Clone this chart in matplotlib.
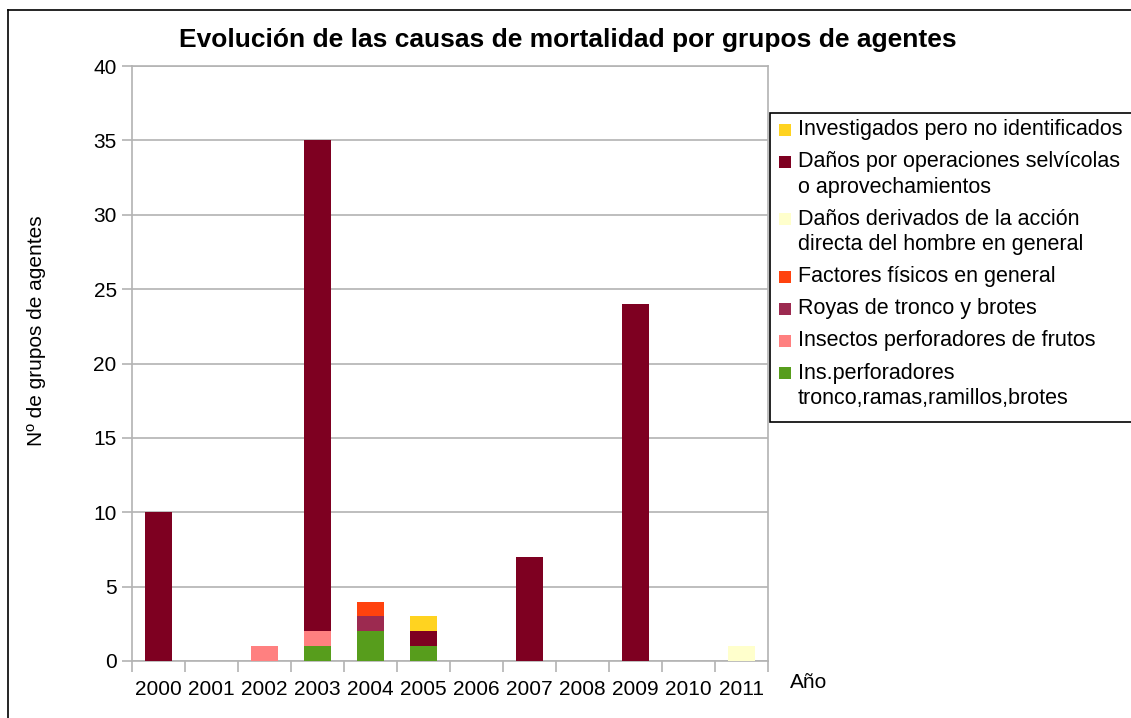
import numpy as np
import matplotlib.pyplot as plt
from matplotlib.lines import Line2D
from matplotlib.patches import Rectangle

plt.rcParams['font.family'] = ['Liberation Sans', 'DejaVu Sans']

years = ['2000', '2001', '2002', '2003', '2004', '2005',
         '2006', '2007', '2008', '2009', '2010', '2011']

# series, bottom of the stack first
ins_tronco   = [0, 0, 0, 1, 2, 1, 0, 0, 0, 0, 0, 0]
ins_frutos   = [0, 0, 1, 1, 0, 0, 0, 0, 0, 0, 0, 0]
royas        = [0, 0, 0, 0, 1, 0, 0, 0, 0, 0, 0, 0]
factores     = [0, 0, 0, 0, 1, 0, 0, 0, 0, 0, 0, 0]
danos_hombre = [0, 0, 0, 0, 0, 0, 0, 0, 0, 0, 0, 1]
danos_oper   = [10, 0, 0, 33, 0, 1, 0, 7, 0, 24, 0, 0]
investigados = [0, 0, 0, 0, 0, 1, 0, 0, 0, 0, 0, 0]

series = [
    (ins_tronco, '#579d1c', ['Ins.perforadores', 'tronco,ramas,ramillos,brotes']),
    (ins_frutos, '#ff8080', ['Insectos perforadores de frutos']),
    (royas, '#9c2a50', ['Royas de tronco y brotes']),
    (factores, '#ff420e', ['Factores físicos en general']),
    (danos_hombre, '#ffffcc', ['Daños derivados de la acción', 'directa del hombre en general']),
    (danos_oper, '#7e0021', ['Daños por operaciones selvícolas', 'o aprovechamientos']),
    (investigados, '#ffd320', ['Investigados pero no identificados']),
]

W, H = 1131, 718
fig = plt.figure(figsize=(W/100, H/100), dpi=100)
ax = fig.add_axes([132/W, 1-661/H, (768-132)/W, (661-66)/H])

x = np.arange(len(years))
bottom = np.zeros(len(years))
for vals, col, lab in series:
    vals = np.array(vals, dtype=float)
    ax.bar(x, vals, 0.5, bottom=bottom, color=col, zorder=3)
    bottom += vals

grey = '#b3b3b3'
ax.set_ylim(0, 40)
ax.set_xlim(-0.5, 11.5)
ax.set_yticks(range(0, 41, 5))
ax.yaxis.grid(True, color=grey, lw=1.2, zorder=0)
for s in ax.spines.values():
    s.set_color(grey)
    s.set_linewidth(1.2)
ax.tick_params(axis='y', colors=grey, labelcolor='black', labelsize=15, length=7, width=1.2, pad=4)
ax.set_xticks(x)
ax.set_xticklabels(years)
ax.set_xticks(np.arange(-0.5, 12, 1), minor=True)
ax.tick_params(axis='x', which='major', length=0, labelsize=15, pad=14)
ax.tick_params(axis='x', which='minor', length=8, width=1.2, color=grey)

ax.set_ylabel('Nº de grupos de agentes', fontsize=15)
ax.yaxis.set_label_coords((46-132)/636, (661-331)/595)
fig.text(790/W, 1-683/H, 'Año', fontsize=15, va='center', ha='left')
fig.text(568/W, 1-40/H, 'Evolución de las causas de mortalidad por grupos de agentes',
         fontsize=19, fontweight='bold', ha='center', va='center')

# legend drawn by hand: box, squares aligned to the first line of each entry
fig.add_artist(Rectangle((770/W, 1-422/H), 400/W, (422-113)/H, transform=fig.transFigure,
                         facecolor='white', edgecolor='black', lw=1.2))
y = 130
for vals, col, lab in reversed(series):
    fig.add_artist(Rectangle((779/W, 1-(y+6)/H), 12/W, 12/H, transform=fig.transFigure,
                             facecolor=col, edgecolor='none'))
    for line in lab:
        fig.text(798/W, 1-y/H, line, fontsize=15.5, va='center', ha='left')
        y += 25.5
    y += 6.5

fig.add_artist(Line2D([8/W, 8/W], [0, 1-10/H], color='black', lw=1.2))
fig.add_artist(Line2D([8/W, 1], [1-10/H, 1-10/H], color='black', lw=1.2))

fig.savefig('out.png', dpi=100)
